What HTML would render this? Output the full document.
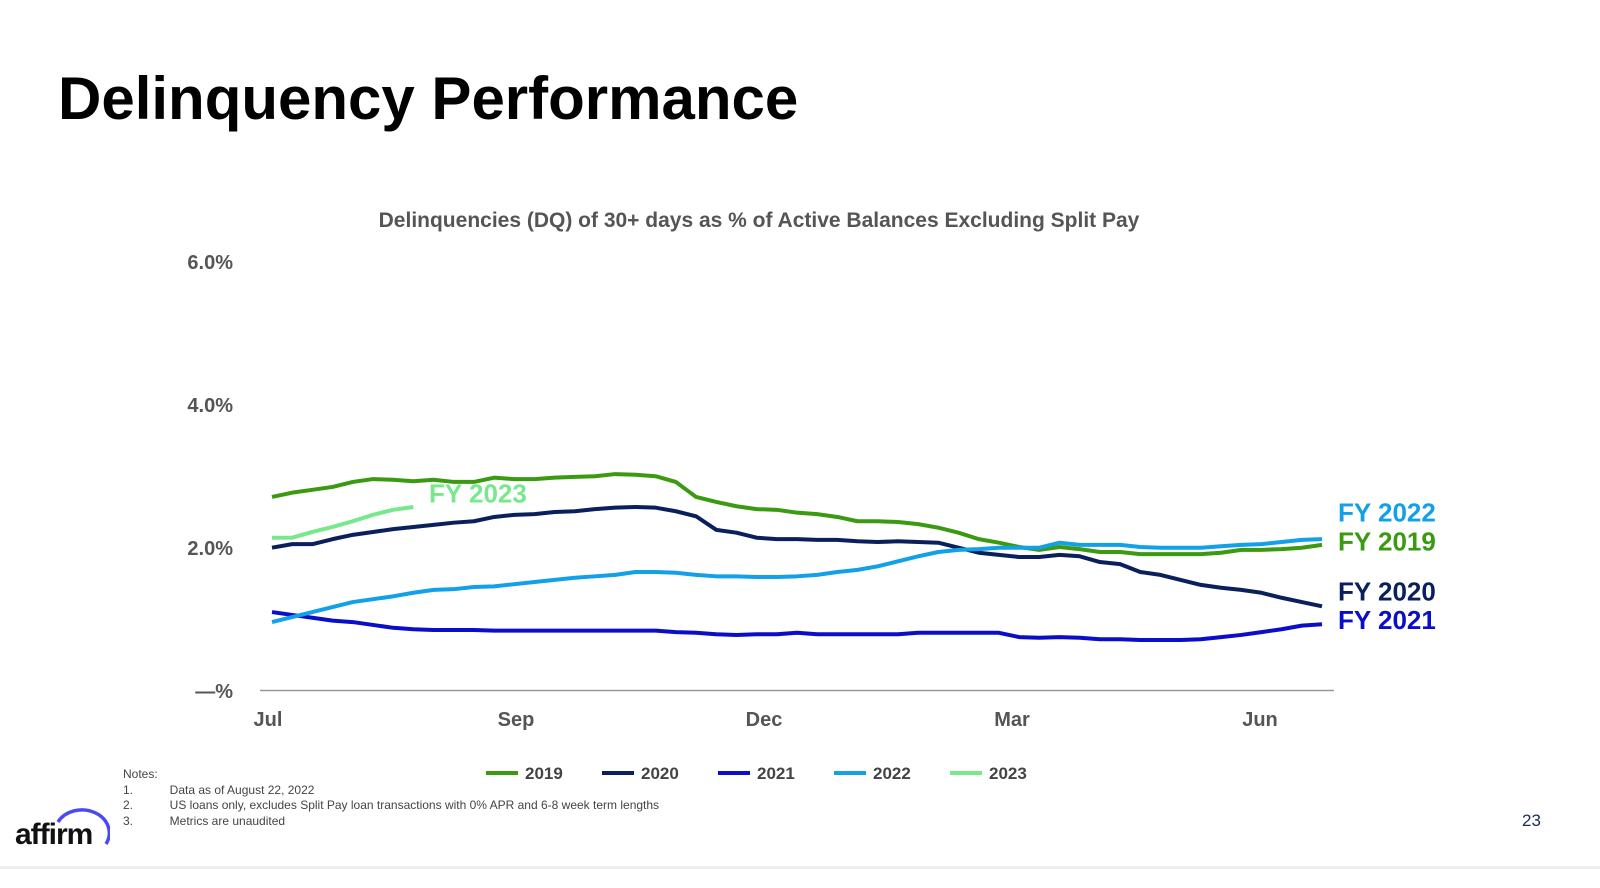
<!DOCTYPE html>
<html><head><meta charset="utf-8"><style>
body{margin:0;width:1600px;height:888px;background:#fff;font-family:"Liberation Sans",sans-serif;overflow:hidden;position:relative}
.t{position:absolute;white-space:nowrap}
</style></head><body>
<div class="t" style="left:58px;top:64px;font-size:60px;font-weight:bold;color:#000;letter-spacing:0px">Delinquency Performance</div>
<svg id="c" width="1600" height="888" style="position:absolute;left:0;top:0"></svg>
<div class="t" style="left:123px;top:767px;font-size:12px;color:#444;line-height:15.5px">Notes:<br>1.&nbsp;&nbsp;&nbsp;&nbsp;&nbsp;&nbsp;&nbsp;&nbsp;&nbsp;&nbsp;&nbsp;Data as of August 22, 2022<br>2.&nbsp;&nbsp;&nbsp;&nbsp;&nbsp;&nbsp;&nbsp;&nbsp;&nbsp;&nbsp;&nbsp;US loans only, excludes Split Pay loan transactions with 0% APR and 6-8 week term lengths<br>3.&nbsp;&nbsp;&nbsp;&nbsp;&nbsp;&nbsp;&nbsp;&nbsp;&nbsp;&nbsp;&nbsp;Metrics are unaudited</div>
<div class="t" style="left:15px;top:818px;font-size:30px;font-weight:bold;color:#111;letter-spacing:-1px">affirm</div>
<svg width="60" height="40" style="position:absolute;left:50px;top:808px"><path d="M8 14 A26 22 0 0 1 56 36" fill="none" stroke="#4a4af4" stroke-width="3.5"/></svg>
<div class="t" style="left:1522px;top:811px;font-size:17px;color:#1a2a5c">23</div>
<div style="position:absolute;left:0;top:866px;width:1600px;height:3px;background:#eee"></div>
<script>
const years=["2019","2020","2021","2022","2023"];
const colors=["#3a9a10","#0a1f5c","#0a0ec8","#12a0e8","#78e88c"];
const v2019=[2.70,2.76,2.80,2.84,2.91,2.95,2.94,2.92,2.94,2.91,2.91,2.97,2.95,2.95,2.97,2.98,2.99,3.02,3.01,2.99,2.91,2.70,2.63,2.57,2.53,2.52,2.48,2.46,2.42,2.36,2.36,2.35,2.32,2.27,2.20,2.11,2.06,2.00,1.96,2.00,1.97,1.93,1.93,1.90,1.90,1.90,1.90,1.92,1.96,1.96,1.97,1.99,2.03];
const v2020=[1.99,2.04,2.04,2.11,2.17,2.21,2.25,2.28,2.31,2.34,2.36,2.42,2.45,2.46,2.49,2.50,2.53,2.55,2.56,2.55,2.50,2.43,2.24,2.20,2.13,2.11,2.11,2.10,2.10,2.08,2.07,2.08,2.07,2.06,1.99,1.92,1.89,1.86,1.86,1.89,1.87,1.79,1.76,1.65,1.61,1.54,1.47,1.43,1.40,1.36,1.29,1.23,1.17];
const v2021=[1.09,1.05,1.01,0.97,0.95,0.91,0.87,0.85,0.84,0.84,0.84,0.83,0.83,0.83,0.83,0.83,0.83,0.83,0.83,0.83,0.81,0.80,0.78,0.77,0.78,0.78,0.80,0.78,0.78,0.78,0.78,0.78,0.80,0.80,0.80,0.80,0.80,0.74,0.73,0.74,0.73,0.71,0.71,0.70,0.70,0.70,0.71,0.74,0.77,0.81,0.85,0.90,0.92];
const v2022=[0.95,1.02,1.09,1.16,1.23,1.27,1.31,1.36,1.40,1.41,1.44,1.45,1.48,1.51,1.54,1.57,1.59,1.61,1.65,1.65,1.64,1.61,1.59,1.59,1.58,1.58,1.59,1.61,1.65,1.68,1.73,1.80,1.87,1.93,1.96,1.97,1.99,1.99,1.99,2.06,2.03,2.03,2.03,2.00,1.99,1.99,1.99,2.01,2.03,2.04,2.07,2.10,2.11];
const v2023=[2.13,2.13,2.21,2.28,2.36,2.45,2.52,2.56];
const yTicks=[0,2,4,6];
const yTickLabels=["—%","2.0%","4.0%","6.0%"];
const xTicks=["Jul","Sep","Dec","Mar","Jun"];
const series=[v2019,v2020,v2021,v2022,v2023];
const NS="http://www.w3.org/2000/svg",svg=document.getElementById("c");
const N=53,X0=272,X1=1322;
const x=i=>X0+i*(X1-X0)/(N-1);
const y=v=>690-v*71.5;
function mk(t,a){const e=document.createElementNS(NS,t);for(const k in a)e.setAttribute(k,a[k]);svg.appendChild(e);return e;}
let s=mk("text",{x:759,y:227,"text-anchor":"middle","font-size":"21","font-weight":"bold",fill:"#555"});s.textContent="Delinquencies (DQ) of 30+ days as % of Active Balances Excluding Split Pay";


yTicks.forEach((t,i)=>{const e=mk("text",{x:233,y:y(t)+8,"text-anchor":"end","font-size":"20","font-weight":"bold",fill:"#555"});e.textContent=yTickLabels[i];

});
let ax=mk("line",{x1:260,x2:1334,y1:690.5,y2:690.5,stroke:"#999","stroke-width":1.5});


xTicks.forEach((t,i)=>{const e=mk("text",{x:268+i*248,y:726,"text-anchor":"middle","font-size":"20","font-weight":"bold",fill:"#555"});e.textContent=t;

});
series.forEach((d,k)=>{const p=mk("polyline",{points:d.map((v,i)=>x(i)+","+y(v)).join(" "),fill:"none",stroke:colors[k],"stroke-width":4,"stroke-linejoin":"round"});

});
const lab=[[1338,2.48,3],[1338,2.08,0],[1338,1.38,1],[1338,0.98,2],[429,2.75,4]];
lab.forEach(([lx,lv,k])=>{const e=mk("text",{x:lx,y:y(lv)+9,"font-size":"26","font-weight":"bold",fill:colors[k]});e.textContent="FY "+years[k];

});
years.forEach((yr,k)=>{const lx=486+k*116;const l=mk("line",{x1:lx,x2:lx+32,y1:773,y2:773,stroke:colors[k],"stroke-width":4});


const e=mk("text",{x:lx+39,y:779,"font-size":"17","font-weight":"bold",fill:"#444"});e.textContent=yr;

});
</script>
</body></html>
